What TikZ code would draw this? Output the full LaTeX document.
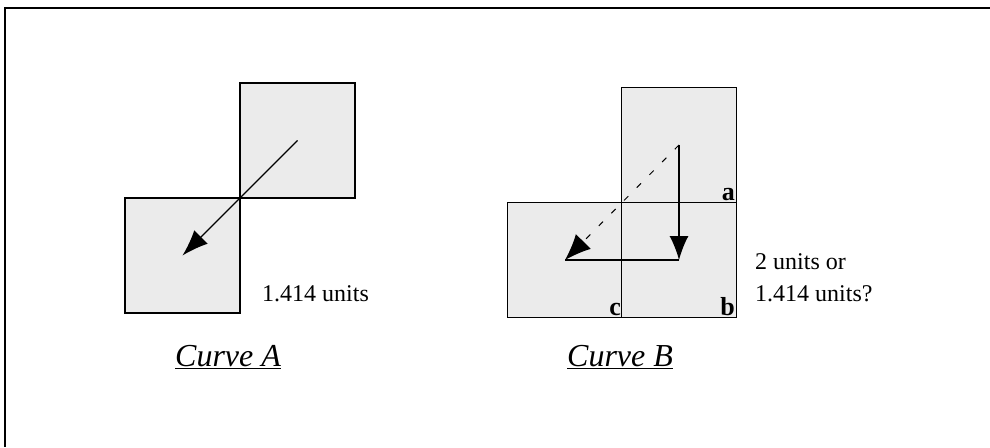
\documentclass[tikz,border=0pt]{standalone}
\usepackage{fontspec}
\setmainfont{Liberation Serif}
\usetikzlibrary{arrows.meta,positioning}

\begin{document}
\begin{tikzpicture}[
    x=1pt, y=-1pt,
    cell/.style={draw, line width=1.2pt, fill=gray!16, minimum size=115pt, inner sep=0pt},
    corner/.style={font=\fontsize{26}{30}\selectfont\bfseries, anchor=south east, inner sep=2pt},
    caption/.style={anchor=base west, inner sep=0pt},
    move/.style={line width=1.3pt, -{Latex[length=26pt,width=19pt]}},
    every node/.style={font=\fontsize{24}{28}\selectfont}
]
\useasboundingbox (0,0) rectangle (990,447);

% frame
\draw[line width=1.3pt] (990,8) -- (5,8) -- (5,447);

% curve A
\node[cell] (au) at (297.5,140.5) {};
\node[cell] (al) at (182.5,255.5) {};
\draw[move] (au.center) -- (al.center);
\node[caption] (alen) at (262,301) {1.414 units};
\node[caption, font=\fontsize{32}{36}\selectfont] (acap) at (175,366) {\underline{\textit{Curve A}}};

% curve B
\node[cell] (ba) at (679,145) {};
\node[cell] (bc) at (565,260) {};
\node[cell] (bb) at (679,260) {};
\node[corner] at (ba.south east) {a};
\node[corner] at (bb.south east) {b};
\node[corner] at (bc.south east) {c};
\draw[move, -{Latex[length=24pt,width=19pt]}] (ba.center) -- (bb.center);
\draw[move, line width=1pt, -{Latex[length=26pt,width=21pt]}, dash pattern=on 6pt off 12pt] (ba.center) -- (bc.center);
\draw[line width=1.3pt] (bb.center) -- (bc.center);
\node[caption] (blen1) at (755,269) {2 units or};
\node[caption] (blen2) at (755,301) {1.414 units?};
\node[caption, font=\fontsize{32}{36}\selectfont] (bcap) at (567,366) {\underline{\textit{Curve B}}};
\end{tikzpicture}
\end{document}
